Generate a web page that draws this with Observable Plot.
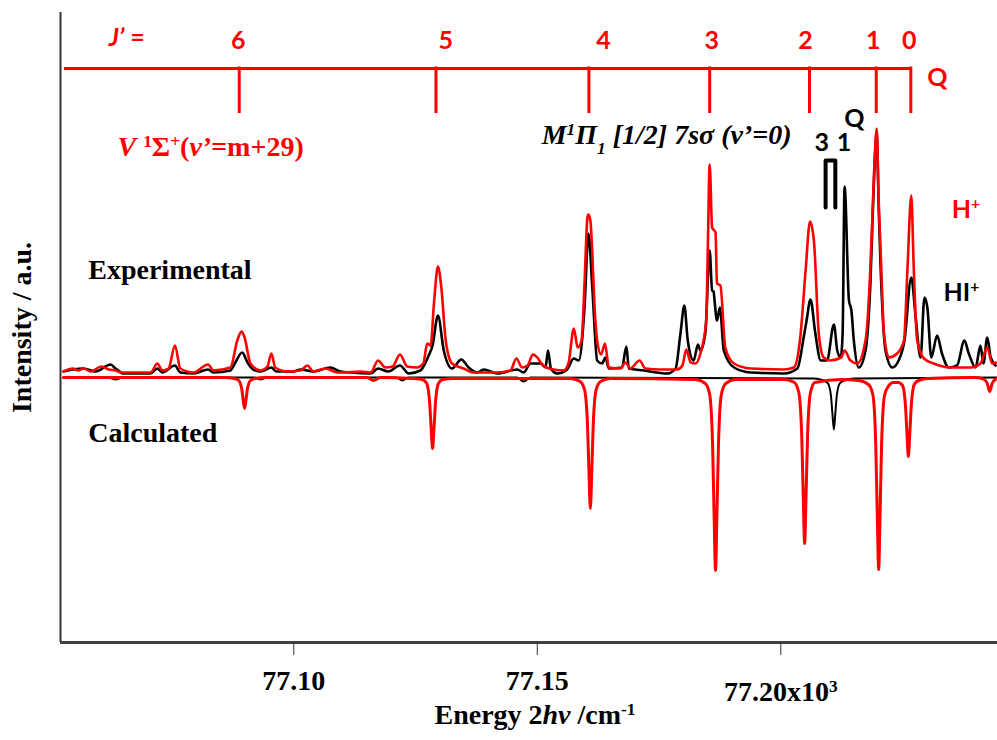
<!DOCTYPE html>
<html><head><meta charset="utf-8">
<script src="https://cdn.jsdelivr.net/npm/d3@7"></script>
<script src="https://cdn.jsdelivr.net/npm/@observablehq/plot@0.6"></script>
<style>body{margin:0;background:#fff} svg{display:block}</style>
</head><body><div id="chart"></div>
<script>
// ---------- data (energy in 10^3 cm^-1, intensity in a.u.) ----------
const energyDomain = [77.0521, 77.2445];
const intensityDomain = [-265, 365];
const xTicks = [77.10, 77.15];
const xTickLast = [77.20];

// Experimental H+ (red)
const expHplus = [[77.0527,6],[77.0546,9],[77.0558,7],[77.0568,9],[77.0583,6],[77.0605,11],[77.0620,8],[77.0634,7],[77.0646,5],[77.0706,5],[77.0720,14],[77.0730,7],[77.0743,9],[77.0756,32],[77.0767,9],[77.0794,5],[77.0824,13],[77.0835,7],[77.0870,10],[77.0884,37],[77.0893,46],[77.0899,40],[77.0911,14],[77.0932,7],[77.0946,11],[77.0954,24],[77.0962,10],[77.0987,6],[77.1014,7],[77.1028,12],[77.1040,6],[77.1065,9],[77.1090,5],[77.1102,5],[77.1137,6],[77.1158,5],[77.1173,17],[77.1188,10],[77.1203,11],[77.1218,23],[77.1233,11],[77.1253,10],[77.1266,14],[77.1274,34],[77.1281,32],[77.1288,75],[77.1296,111],[77.1303,90],[77.1312,37],[77.1325,14],[77.1349,9],[77.1369,5],[77.1418,5],[77.1445,7],[77.1457,19],[77.1469,10],[77.1480,12],[77.1491,23],[77.1500,20],[77.1507,15],[77.1524,9],[77.1554,7],[77.1564,14],[77.1575,49],[77.1583,30],[77.1591,37],[77.1597,94],[77.1603,160],[77.1605,163],[77.1609,157],[77.1613,124],[77.1617,77],[77.1623,37],[77.1631,23],[77.1639,34],[77.1647,10],[77.1671,9],[77.1681,15],[77.1691,9],[77.1710,17],[77.1722,9],[77.1753,8],[77.1787,8],[77.1798,12],[77.1806,28],[77.1815,15],[77.1825,14],[77.1835,24],[77.1847,57],[77.1850,124],[77.1854,213],[77.1859,150],[77.1866,145],[77.1869,94],[77.1876,92],[77.1886,30],[77.1904,14],[77.1938,9],[77.2006,8],[77.2027,10],[77.2040,40],[77.2051,107],[77.2060,156],[77.2068,137],[77.2078,44],[77.2088,20],[77.2102,17],[77.2124,20],[77.2131,27],[77.2143,17],[77.2157,14],[77.2174,37],[77.2184,110],[77.2188,160],[77.2192,210],[77.2197,249],[77.2201,177],[77.2205,127],[77.2212,44],[77.2222,20],[77.2239,24],[77.2253,37],[77.2260,107],[77.2268,182],[77.2273,110],[77.2280,37],[77.2294,19],[77.2314,14],[77.2349,10],[77.2390,10],[77.2410,14],[77.2424,30],[77.2434,14],[77.2443,15]];

// Experimental HI+ (black)
const expHIplus = [[77.0527,6],[77.0546,8],[77.0568,9],[77.0593,6],[77.0624,13],[77.0634,9],[77.0640,7],[77.0648,4],[77.0706,4],[77.0720,9],[77.0730,5],[77.0756,12],[77.0767,5],[77.0794,4],[77.0824,8],[77.0835,5],[77.0870,7],[77.0880,15],[77.0894,25],[77.0905,15],[77.0917,8],[77.0932,6],[77.0954,10],[77.0964,6],[77.0999,6],[77.1014,8],[77.1040,6],[77.1075,10],[77.1096,6],[77.1116,5],[77.1158,4],[77.1173,9],[77.1194,6],[77.1218,12],[77.1236,4],[77.1260,7],[77.1277,22],[77.1285,32],[77.1296,62],[77.1308,27],[77.1325,9],[77.1344,18],[77.1359,10],[77.1377,5],[77.1390,8],[77.1418,4],[77.1459,8],[77.1472,5],[77.1486,14],[77.1507,14],[77.1517,10],[77.1522,27],[77.1528,9],[77.1541,4],[77.1561,8],[77.1575,19],[77.1585,17],[77.1597,70],[77.1605,144],[77.1613,90],[77.1623,17],[77.1633,14],[77.1640,20],[77.1647,9],[77.1674,10],[77.1683,31],[77.1688,9],[77.1719,7],[77.1767,4],[77.1784,9],[77.1794,44],[77.1802,72],[77.1809,37],[77.1821,17],[77.1830,33],[77.1835,27],[77.1845,44],[77.1854,127],[77.1859,87],[77.1862,86],[77.1864,77],[77.1869,57],[77.1875,70],[77.1883,27],[77.1904,10],[77.1938,5],[77.2006,4],[77.2034,9],[77.2047,40],[77.2053,57],[77.2061,78],[77.2071,44],[77.2082,17],[77.2095,17],[77.2109,53],[77.2116,27],[77.2123,20],[77.2127,44],[77.2131,191],[77.2140,77],[77.2145,67],[77.2150,37],[77.2160,10],[77.2174,27],[77.2184,94],[77.2190,180],[77.2197,244],[77.2201,170],[77.2205,110],[77.2215,27],[77.2229,10],[77.2242,17],[77.2254,37],[77.2268,100],[77.2277,60],[77.2287,20],[77.2295,80],[77.2301,70],[77.2309,20],[77.2321,42],[77.2331,24],[77.2345,10],[77.2362,12],[77.2377,37],[77.2386,24],[77.2400,10],[77.2410,32],[77.2416,14],[77.2424,40],[77.2431,20],[77.2441,12]];

// Calculated (drawn downward)
const calcHplus = [[77.0527,0],[77.0858,0],[77.0878,-1],[77.0887,-3],[77.0893,-11],[77.0896,-22],[77.0899,-31],[77.0902,-22],[77.0905,-11],[77.0911,-3],[77.0920,-1],[77.0940,0],[77.1150,0],[77.1164,-3],[77.1178,0],[77.1244,-1],[77.1264,-2],[77.1273,-6],[77.1279,-25],[77.1282,-50],[77.1285,-71],[77.1288,-50],[77.1291,-25],[77.1297,-6],[77.1306,-2],[77.1326,-1],[77.1568,-1],[77.1588,-4],[77.1597,-12],[77.1603,-46],[77.1606,-92],[77.1609,-131],[77.1612,-92],[77.1615,-46],[77.1621,-12],[77.1630,-4],[77.1650,-1],[77.1825,-2],[77.1845,-6],[77.1854,-17],[77.1860,-68],[77.1863,-135],[77.1866,-193],[77.1869,-135],[77.1872,-68],[77.1878,-17],[77.1887,-6],[77.1907,-2],[77.2008,-2],[77.2028,-5],[77.2037,-15],[77.2043,-58],[77.2046,-116],[77.2049,-166],[77.2052,-116],[77.2055,-58],[77.2061,-15],[77.2070,-5],[77.2125,-2],[77.2160,-3],[77.2180,-7],[77.2189,-17],[77.2195,-67],[77.2198,-134],[77.2201,-192],[77.2204,-134],[77.2207,-67],[77.2213,-18],[77.2222,-8],[77.2231,-5],[77.2241,-5],[77.2250,-8],[77.2256,-28],[77.2259,-55],[77.2262,-79],[77.2265,-55],[77.2268,-28],[77.2274,-7],[77.2283,-3],[77.2303,-1],[77.2400,0],[77.2418,-2],[77.2424,-6],[77.2429,-14],[77.2434,-6],[77.2440,-2],[77.2445,-1]];
const calcHIplus = [[77.0527,0],[77.0620,0],[77.0634,-2],[77.0648,0],[77.0920,0],[77.0932,-2],[77.0944,0],[77.1210,0],[77.1223,-3],[77.1236,0],[77.1458,0],[77.1472,-4],[77.1486,0],[77.2068,-1],[77.2088,-3],[77.2097,-6],[77.2103,-18],[77.2106,-36],[77.2109,-52],[77.2112,-36],[77.2115,-18],[77.2121,-6],[77.2130,-3],[77.2150,-1],[77.2445,0]];

// J' assignment ladder
const jValues = ["6","5","4","3","2","1","0"];
const jTickEnergy = [77.0888,77.1292,77.1606,77.1854,77.2059,77.2196,77.2267];
const jLabelEnergy = [77.0886,77.1312,77.1636,77.1858,77.2051,77.2190,77.2264];
const ladderStart = 77.0529, ladderLevel = 309, ladderTickEnd = 264, ladderLabelLevel = 337;

// annotations (data coordinates)
const serifLabels = ["Experimental", "Calculated"];
const serifLabelE = [77.0578, 77.0578];
const serifLabelI = [107, -56];
const stateV = {text: "V 1S+(v'=m+29)", e: 77.0638, i: 230};
const stateM = {text: "M1P1 [1/2] 7ss (v'=0)", e: 77.1509, i: 242};
const jHeader = {text: "J' =", e: 77.0620, i: 340};
const branchQ = {text: "Q", e: 77.2301, i: 300};
const mLines = ["3", "1", "Q"];
const mLineE = [77.2084, 77.2130, 77.2151];
const mLineI = [235, 235, 259];
const bracket = [[77.2092,170],[77.2092,217],[77.2112,217],[77.2112,170]];
const ionLabels = ["H+", "HI+"];
const ionE = [77.2351, 77.2334];
const ionI = [168, 85];

// ---------- drawing ----------
const RED = "#ff0000";
const SERIF = "'Liberation Serif','Times New Roman',serif";
const SANS = "Lato,'Open Sans',sans-serif";

const chart = Plot.plot({
  width: 997, height: 740,
  marginLeft: 60, marginRight: 0, marginTop: 12, marginBottom: 98,
  x: {domain: energyDomain},
  y: {domain: intensityDomain, axis: null},
  style: {fontFamily: SERIF, fontWeight: "bold", background: "#fff", color: "#000", overflow: "visible"},
  marks: [
    Plot.ruleX([energyDomain[0]], {stroke: "#333", strokeWidth: 2}),
    Plot.ruleY([intensityDomain[0]], {stroke: "#404040", strokeWidth: 3}),
    Plot.axisX({ticks: xTicks, tickFormat: d => d.toFixed(2), tickSize: 13, tickPadding: 15, fontSize: 28, label: null, stroke: "#333", fill: "#000"}),
    Plot.axisX({ticks: xTickLast, tickFormat: () => "77.20x10^3", tickSize: 13, tickPadding: 26, fontSize: 28, label: null, stroke: "#333", fill: "#000"}),
    Plot.text(["Energy 2hv /cm^-1"], {frameAnchor: "bottom", dy: 81, dx: 6, fontSize: 28, fill: "#000"}),
    Plot.text(["Intensity / a.u."], {frameAnchor: "left", dx: -38, rotate: -90, textAnchor: "middle", fontSize: 28, fill: "#000"}),

    // calculated
    Plot.line(calcHIplus, {stroke: "#000", strokeWidth: 2, curve: "monotone-x"}),
    Plot.line(calcHplus, {stroke: RED, strokeWidth: 3, strokeLinejoin: "round", curve: "monotone-x"}),
    // experimental
    Plot.line(expHIplus, {stroke: "#000", strokeWidth: 2.6, strokeLinejoin: "round", curve: "monotone-x"}),
    Plot.line(expHplus, {stroke: RED, strokeWidth: 2.6, strokeLinejoin: "round", curve: "monotone-x"}),

    // ladder
    Plot.ruleY([ladderLevel], {x1: ladderStart, x2: jTickEnergy[jTickEnergy.length - 1], stroke: RED, strokeWidth: 3}),
    Plot.ruleX(jTickEnergy, {y1: ladderTickEnd, y2: ladderLevel + 1.5, stroke: RED, strokeWidth: 3}),
    Plot.text(jValues, {x: jLabelEnergy, y: () => ladderLabelLevel, fill: RED, fontFamily: SANS, fontSize: 25, fontWeight: "bold"}),
    Plot.text([jHeader.text], {x: () => jHeader.e, y: () => jHeader.i, textAnchor: "start", fill: RED, fontFamily: SANS, fontSize: 25, fontWeight: "bold"}),
    Plot.text([branchQ.text], {x: () => branchQ.e, y: () => branchQ.i, textAnchor: "start", fill: RED, fontFamily: SANS, fontSize: 25, fontWeight: "bold"}),

    // state labels
    Plot.text([stateV.text], {x: () => stateV.e, y: () => stateV.i, textAnchor: "start", fill: RED, fontSize: 28}),
    Plot.text([stateM.text], {x: () => stateM.e, y: () => stateM.i, textAnchor: "start", fill: "#000", fontSize: 28, fontStyle: "italic"}),
    Plot.text(serifLabels, {x: serifLabelE, y: serifLabelI, textAnchor: "start", fill: "#000", fontSize: 28}),

    // M-state rotational lines
    Plot.text(mLines, {x: mLineE, y: mLineI, fill: "#000", fontFamily: SANS, fontSize: 25, fontWeight: "bold"}),
    Plot.line(bracket, {stroke: "#000", strokeWidth: 4}),

    // ion labels
    Plot.text(ionLabels, {x: ionE, y: ionI, textAnchor: "start", fill: (d) => d === "H+" ? RED : "#000", fontFamily: SANS, fontSize: 25, fontWeight: "bold"})
  ]
});

// rich text (italics, super/subscripts)
const sup = s => `<tspan baseline-shift="super" font-size="62%">${s}</tspan>`;
const sub = s => `<tspan baseline-shift="sub" font-size="62%">${s}</tspan>`;
const it = s => `<tspan font-style="italic">${s}</tspan>`;
const rich = new Map([
  ["77.20x10^3", "77.20x10" + sup("3")],
  ["Energy 2hv /cm^-1", "Energy 2" + it("hv") + " /cm" + sup("-1")],
  [stateV.text, it("V") + " " + sup("1") + "Σ" + sup("+") + "(" + it("v’") + "=m+29)"],
  [stateM.text, "M" + sup("1") + "Π" + sub("1") + " [1/2] 7sσ (v’=0)"],
  [jHeader.text, it("J’") + " ="],
  ["H+", "H" + sup("+")],
  ["HI+", "HI" + sup("+")]
]);
d3.select(chart).selectAll("text").each(function () {
  const k = this.textContent;
  if (rich.has(k)) this.innerHTML = rich.get(k);
});
document.getElementById("chart").appendChild(chart);
</script></body></html>
